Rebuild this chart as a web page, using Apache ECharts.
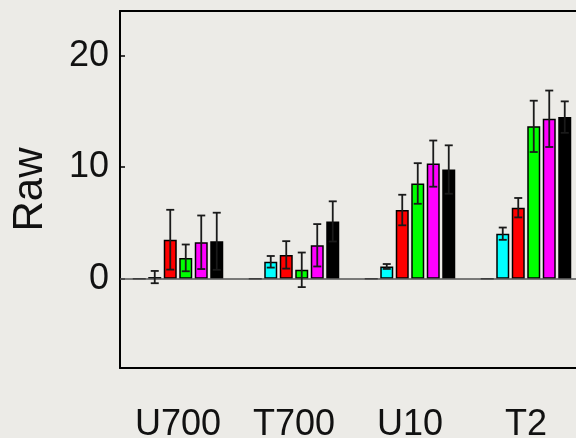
<!DOCTYPE html>
<html>
<head>
<meta charset="utf-8">
<script src="https://cdn.jsdelivr.net/npm/echarts@6/dist/echarts.min.js"></script>
<style>
  html, body { margin: 0; padding: 0; background: #ecebe7; }
  #main { width: 576px; height: 438px; }
</style>
</head>
<body>
<div id="main"></div>
<script>
// data
const categories = ['U700', 'T700', 'U10', 'T2'];
const zeroVals = [0, 0, 0, 0];
const cyanVals = [0.15, 1.52, 1.1, 4.04];
const cyanErr = [0.55, 0.52, 0.22, 0.55];
const redVals = [3.5, 2.14, 6.16, 6.37];
const redErr = [2.68, 1.23, 1.37, 0.87];
const greenVals = [1.87, 0.8, 8.54, 13.66];
const greenErr = [1.2, 1.55, 1.82, 2.3];
const magentaVals = [3.27, 3.0, 10.32, 14.34];
const magentaErr = [2.4, 1.9, 2.07, 2.53];
const blackVals = [3.36, 5.14, 9.79, 14.49];
const blackErr = [2.56, 1.8, 2.17, 1.41];
const yTicks = [0, 10, 20];

const barW = 13;
const barGap = 2.5;
const font = 'Liberation Sans, Arial, Helvetica, sans-serif';

const groups = [
  { vals: zeroVals, err: null, color: '#ffffff' },
  { vals: cyanVals, err: cyanErr, color: '#00ffff' },
  { vals: redVals, err: redErr, color: '#ff0000' },
  { vals: greenVals, err: greenErr, color: '#00ff00' },
  { vals: magentaVals, err: magentaErr, color: '#ff00ff' },
  { vals: blackVals, err: blackErr, color: '#000000' }
];

var myChart = echarts.init(document.getElementById('main'));

let series = [];
groups.forEach((g, i) => {
  let s = {
    type: 'bar',
    data: g.vals,
    barWidth: barW,
    barGap: (barGap / barW * 100) + '%',
    itemStyle: { color: g.color, borderColor: '#000', borderWidth: 1.5 },
    z: 3
  };
  if (i === 0) {
    // 0 line across the plot
    s.markLine = {
      silent: true,
      symbol: 'none',
      label: { show: false },
      lineStyle: { color: '#555', width: 1.5, type: 'solid' },
      data: [{ yAxis: 0 }]
    };
  }
  series.push(s);
});

// error bars, one custom series per coloured bar
groups.forEach((g, i) => {
  if (!g.err) return;
  const offset = (i - 2.5) * (barW + barGap);
  series.push({
    type: 'custom',
    z: 5,
    data: g.vals.map((v, k) => [k, v, g.err[k]]),
    renderItem: function (params, api) {
      const cat = api.value(0), v = api.value(1), e = api.value(2);
      const top = api.coord([cat, v + e]);
      const bot = api.coord([cat, v - e]);
      const x = top[0] + offset;
      const st = { stroke: '#1a1a1a', lineWidth: 1.8 };
      return {
        type: 'group',
        children: [
          { type: 'line', shape: { x1: x, y1: top[1], x2: x, y2: bot[1] }, style: st },
          { type: 'line', shape: { x1: x - 4, y1: top[1], x2: x + 4, y2: top[1] }, style: st },
          { type: 'line', shape: { x1: x - 4, y1: bot[1], x2: x + 4, y2: bot[1] }, style: st }
        ]
      };
    }
  });
});

let option = {
  backgroundColor: '#ecebe7',
  animation: false,
  grid: { left: 120, top: 11, width: 464, height: 357, outerBoundsMode: 'none', containLabel: false },
  xAxis: [
    {
      type: 'category',
      data: categories,
      position: 'bottom',
      axisLine: { onZero: false, lineStyle: { color: '#000', width: 2 } },
      axisTick: { inside: true, alignWithLabel: true, length: 5, lineStyle: { color: '#000', width: 1.5 } },
      axisLabel: { color: '#111', fontSize: 36, fontFamily: font, margin: 39, verticalAlign: 'top' },
      splitLine: { show: false }
    },
    {
      type: 'category',
      data: categories,
      position: 'top',
      axisLine: { onZero: false, lineStyle: { color: '#000', width: 2 } },
      axisTick: { inside: true, alignWithLabel: true, length: 5, lineStyle: { color: '#000', width: 1.5 } },
      axisLabel: { show: false }
    }
  ],
  yAxis: {
    type: 'value',
    min: -8,
    max: 24,
    name: 'Raw',
    nameLocation: 'middle',
    nameRotate: 90,
    nameGap: 69,
    nameTextStyle: { color: '#111', fontSize: 42, fontFamily: font },
    axisLine: { show: true, lineStyle: { color: '#000', width: 2 } },
    axisTick: { show: true, inside: true, length: 5, customValues: yTicks, lineStyle: { color: '#000', width: 1.5 } },
    axisLabel: { color: '#111', fontSize: 36, fontFamily: font, margin: 11, customValues: yTicks },
    splitLine: { show: false }
  },
  series: series
};
myChart.setOption(option);
</script>
</body>
</html>
